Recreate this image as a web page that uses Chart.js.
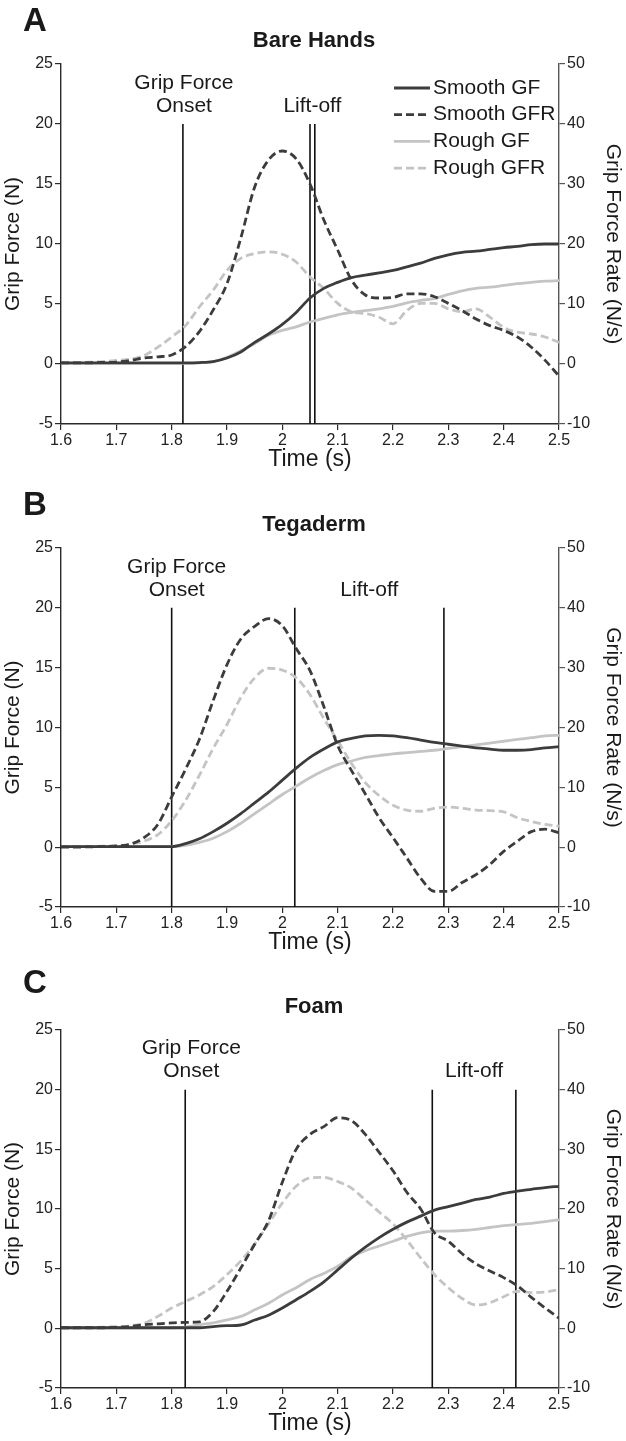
<!DOCTYPE html>
<html><head><meta charset="utf-8">
<script src="https://cdn.jsdelivr.net/npm/chart.js@4.4.1/dist/chart.umd.min.js"></script>
<style>
html,body{margin:0;padding:0;background:#fff;}
#wrap{position:relative;width:626px;height:1441px;background:#fff;}
canvas{position:absolute;left:0;}
</style></head><body><div id="wrap">
<canvas id="cA" width="626" height="474" style="top:0px"></canvas>
<canvas id="cB" width="626" height="483" style="top:474px"></canvas>
<canvas id="cC" width="626" height="481" style="top:957px"></canvas>
</div>
<script>
// ---- data ----
const times = [1.6,1.625,1.65,1.675,1.7,1.725,1.75,1.775,1.8,1.825,1.85,1.875,1.9,1.925,1.95,1.975,2.0,2.025,2.05,2.075,2.1,2.125,2.15,2.175,2.2,2.225,2.25,2.275,2.3,2.325,2.35,2.375,2.4,2.425,2.45,2.475,2.5];
const xTickLabels = ['1.6','1.7','1.8','1.9','2','2.1','2.2','2.3','2.4','2.5'];
const gfTickLabels = ['-5','0','5','10','15','20','25'];
const gfrTickLabels = ['-10','0','10','20','30','40','50'];
const seriesNames = ['Smooth GF','Smooth GFR','Rough GF','Rough GFR'];

// Panel A: Bare Hands
const aSmoothGF  = [0.1,0.1,0.1,0.1,0.1,0.1,0.1,0.1,0.1,0.1,0.12,0.2,0.5,1.0,1.8,2.5,3.3,4.3,5.5,6.3,6.8,7.2,7.4,7.6,7.8,8.1,8.4,8.8,9.1,9.3,9.4,9.55,9.7,9.8,9.95,10.0,10.0];
const aSmoothGFR = [0.2,0.2,0.2,0.25,0.3,0.6,1.0,1.2,1.5,2.9,5.4,9.0,13.4,21.0,29.5,34.0,35.5,34.2,30.0,24.0,19.0,14.0,11.5,11.0,11.1,11.7,11.7,11.2,10.1,8.9,7.5,6.4,5.6,4.5,2.8,0.6,-2.0];
const aRoughGF   = [0.05,0.05,0.05,0.05,0.05,0.05,0.05,0.05,0.05,0.05,0.1,0.2,0.55,1.1,1.7,2.4,2.8,3.1,3.5,3.8,4.1,4.3,4.45,4.6,4.8,5.1,5.3,5.45,5.8,6.1,6.3,6.4,6.55,6.7,6.8,6.9,6.95];
const aRoughGFR  = [0.2,0.2,0.3,0.4,0.6,0.8,1.4,2.8,4.5,6.4,9.5,12.3,15.6,17.6,18.4,18.7,18.3,17.0,14.5,12.6,10.1,8.7,8.4,7.8,6.7,8.9,10.1,10.1,9.2,8.7,9.2,7.8,6.1,5.3,5.0,4.5,3.6];
const aOnset = 1.8203;
const aLiftoff = [2.050, 2.0587];

// Panel B: Tegaderm
const bSmoothGF  = [0.05,0.05,0.05,0.05,0.05,0.05,0.05,0.05,0.05,0.3,0.7,1.3,2.0,2.8,3.7,4.6,5.6,6.6,7.5,8.2,8.8,9.1,9.3,9.35,9.3,9.15,8.95,8.75,8.6,8.45,8.3,8.2,8.1,8.1,8.15,8.3,8.4];
const bSmoothGFR = [0,0,0.05,0.1,0.2,0.5,1.6,3.8,8.4,13.0,18.0,24.5,30.5,34.8,36.9,38.2,37.0,33.2,29.5,23.5,17.0,12.8,8.9,4.9,1.6,-1.8,-5.2,-7.4,-7.4,-5.9,-4.6,-2.9,-0.7,1.0,2.6,3.0,2.4];
const bRoughGF   = [0.05,0.05,0.05,0.05,0.05,0.05,0.05,0.05,0.05,0.15,0.4,0.75,1.3,2.0,2.8,3.6,4.4,5.1,5.8,6.4,6.9,7.2,7.5,7.65,7.8,7.9,8.0,8.1,8.25,8.4,8.55,8.7,8.85,9.0,9.15,9.3,9.35];
const bRoughGFR  = [0.1,0.1,0.1,0.15,0.2,0.5,1.0,2.1,4.4,7.8,12.0,16.5,20.5,25.0,28.3,29.9,29.6,28.3,25.5,21.5,17.8,14.0,10.8,8.6,7.0,6.2,6.0,6.5,6.7,6.5,6.2,6.1,5.9,4.9,4.3,3.8,3.5];
const bOnset = 1.80;
const bLiftoff = [2.0225, 2.292];

// Panel C: Foam
const cSmoothGF  = [0.05,0.05,0.05,0.05,0.05,0.05,0.05,0.05,0.05,0.05,0.05,0.15,0.22,0.28,0.7,1.1,1.7,2.4,3.1,3.9,4.9,5.9,6.8,7.6,8.3,8.9,9.4,9.9,10.2,10.5,10.8,11.0,11.3,11.5,11.65,11.8,11.9];
const cSmoothGFR = [0.1,0.1,0.1,0.1,0.15,0.3,0.6,0.75,0.9,1.0,1.1,2.8,6.2,10.1,14.1,18.0,24.5,30.0,32.5,33.8,35.3,34.8,32.5,29.5,26.4,22.8,20.0,16.0,14.6,12.5,10.8,9.6,8.5,7.1,5.2,3.4,1.7];
const cRoughGF   = [0.05,0.05,0.05,0.05,0.05,0.05,0.05,0.05,0.05,0.1,0.3,0.45,0.7,1.0,1.55,2.1,2.8,3.4,4.1,4.6,5.2,6.0,6.5,6.9,7.3,7.7,8.0,8.15,8.15,8.2,8.3,8.45,8.6,8.7,8.8,8.95,9.1];
const cRoughGFR  = [0.1,0.1,0.15,0.2,0.3,0.4,0.85,2.0,3.4,4.5,5.6,7.0,9.0,11.3,14.1,17.5,21.0,23.8,25.2,25.3,24.6,23.5,21.5,19.5,17.5,14.8,11.8,9.0,6.8,5.0,3.9,4.3,5.3,6.2,6.0,6.1,6.5];
const cOnset = 1.8245;
const cLiftoff = [2.271, 2.422];

// ---- styling ----
const FONT = "'Liberation Sans', Arial, Helvetica, sans-serif";
const DARK = '#3c3c3c';
const LIGHT = '#c4c4c4';
const AXIS = '#2a2a2a';
const AXIS_R = '#555555';

const panels = [
  {id:'cA', letter:'A', title:'Bare Hands', top:64, bottom:424, h:474, letterY:22, titleY:41, labelShift:1, onset:aOnset, liftoff:aLiftoff, legend:true,
   s:[aSmoothGF,aSmoothGFR,aRoughGF,aRoughGFR]},
  {id:'cB', letter:'B', title:'Tegaderm', top:74, bottom:433, h:483, letterY:32, titleY:51, labelShift:5, onset:bOnset, liftoff:bLiftoff, legend:false,
   s:[bSmoothGF,bSmoothGFR,bRoughGF,bRoughGFR]},
  {id:'cC', letter:'C', title:'Foam', top:73, bottom:431, h:481, letterY:27, titleY:50, labelShift:6, onset:cOnset, liftoff:cLiftoff, legend:false,
   s:[cSmoothGF,cSmoothGFR,cRoughGF,cRoughGFR]}
];

function pts(vals){ return times.map((t,i)=>({x:t,y:vals[i]})); }

const decorPlugin = {
  id:'decor',
  afterDatasetsDraw(chart, args, opts){
    const ctx = chart.ctx, p = opts.panel;
    const xs = chart.scales.x, ys = chart.scales.y;
    ctx.save();
    ctx.fillStyle = '#1a1a1a';
    // panel letter
    ctx.font = "bold 33px " + FONT;
    ctx.textAlign = 'left'; ctx.textBaseline = 'middle';
    ctx.fillText(p.letter, 23, p.letterY);
    // title
    ctx.font = "bold 22px " + FONT;
    ctx.textAlign = 'center';
    ctx.fillText(p.title, 314, p.titleY);
    // event labels
    ctx.font = "21px " + FONT;
    const yTop = ys.getPixelForValue(20);
    const ox = xs.getPixelForValue(p.onset) + p.labelShift;
    ctx.fillText('Grip Force', ox, yTop - 41);
    ctx.fillText('Onset', ox, yTop - 18);
    const lx = (xs.getPixelForValue(p.liftoff[0]) + xs.getPixelForValue(p.liftoff[1])) / 2;
    ctx.fillText('Lift-off', lx, yTop - 18);
    // legend
    if (p.legend) {
      const a = chart.chartArea;
      ctx.font = "21px " + FONT;
      ctx.textAlign = 'left';
      chart.data.datasets.forEach((ds, i) => {
        if (!ds.isSeries) return;
        const y = a.top + 24 + i * 26.7;
        ctx.strokeStyle = ds.borderColor;
        ctx.lineWidth = ds.borderWidth;
        ctx.setLineDash(ds.borderDash || []);
        ctx.beginPath(); ctx.moveTo(394, y); ctx.lineTo(430, y); ctx.stroke();
        ctx.setLineDash([]);
        ctx.fillStyle = '#1a1a1a';
        ctx.fillText(ds.label, 433, y);
      });
    }
    ctx.restore();
  }
};

panels.forEach(p => {
  const styles = [
    {c:DARK, dash:[], ax:'y'},
    {c:DARK, dash:[8,4], ax:'y1'},
    {c:LIGHT, dash:[], ax:'y'},
    {c:LIGHT, dash:[8,4], ax:'y1'}
  ];
  const datasets = p.s.map((vals, i) => ({
    label: seriesNames[i], isSeries:true,
    data: pts(vals), yAxisID: styles[i].ax,
    borderColor: styles[i].c, borderWidth: 2.8, borderDash: styles[i].dash,
    pointRadius: 0, cubicInterpolationMode: 'monotone', fill:false
  }));
  const evTimes = [p.onset].concat(p.liftoff);
  evTimes.forEach(t => datasets.push({
    label:'event', isSeries:false,
    data:[{x:t,y:20},{x:t,y:-5}], yAxisID:'y',
    borderColor:'#111', borderWidth:1.6, pointRadius:0, fill:false
  }));
  new Chart(document.getElementById(p.id), {
    type:'line',
    data:{datasets},
    plugins:[decorPlugin],
    options:{
      responsive:false, animation:false, devicePixelRatio:1,
      layout:{padding:{top:p.top, left:0, right:0, bottom:0}},
      plugins:{legend:{display:false}, tooltip:{enabled:false}, title:{display:false}, decor:{panel:p}},
      scales:{
        x:{type:'linear', min:1.6, max:2.5,
           afterFit: s => { s.height = p.h - p.bottom; },
           ticks:{stepSize:0.1, color:'#222', font:{family:FONT, size:16}, padding:1, maxRotation:0,
                  callback:(v,i)=>xTickLabels[i]},
           grid:{display:true, drawOnChartArea:false, drawTicks:true, tickLength:6, color:AXIS, lineWidth:1.2},
           border:{display:true, color:AXIS, width:1.4},
           title:{display:true, text:'Time (s)', color:'#1a1a1a', font:{family:FONT, size:23}, padding:{top:0,bottom:1}}
        },
        y:{position:'left', min:-5, max:25,
           afterFit: s => { s.width = 61; },
           ticks:{stepSize:5, color:'#222', font:{family:FONT, size:16}, padding:2,
                  callback:(v,i)=>gfTickLabels[i]},
           grid:{display:true, drawOnChartArea:false, drawTicks:true, tickLength:6, color:AXIS, lineWidth:1.2},
           border:{display:true, color:AXIS, width:1.4},
           title:{display:true, text:'Grip Force (N)', color:'#1a1a1a', font:{family:FONT, size:21}, padding:{top:1,bottom:0}}
        },
        y1:{position:'right', min:-10, max:50,
           afterFit: s => { s.width = 67; },
           ticks:{stepSize:10, color:'#222', font:{family:FONT, size:16}, padding:2,
                  callback:(v,i)=>gfrTickLabels[i]},
           grid:{display:true, drawOnChartArea:false, drawTicks:true, tickLength:6, color:AXIS_R, lineWidth:1.2},
           border:{display:true, color:AXIS_R, width:1.4},
           title:{display:true, text:'Grip Force Rate (N/s)', color:'#1a1a1a', font:{family:FONT, size:21}, padding:{top:1,bottom:0}}
        }
      }
    }
  });
});
</script>
</body></html>
